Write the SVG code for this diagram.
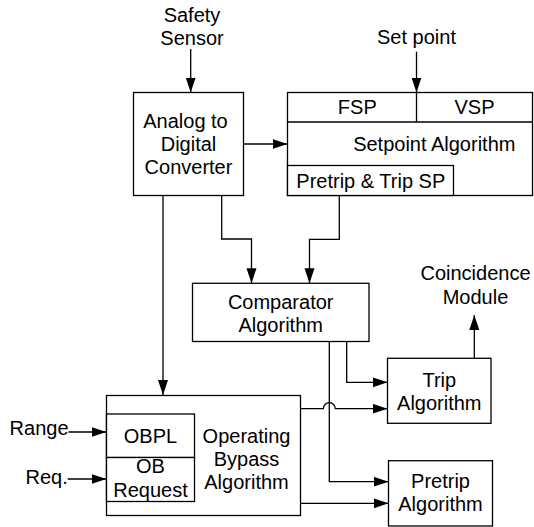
<svg xmlns="http://www.w3.org/2000/svg" width="534" height="527" viewBox="0 0 534 527">
<style>
.box{fill:#fff;stroke:#000;stroke-width:1.3}
.ln{fill:none;stroke:#000;stroke-width:1.3}
.arr{marker-end:url(#ah)}
text{font-family:"Liberation Sans",Arial,sans-serif;font-size:20px;fill:#000}
.c{text-anchor:middle}
.e{text-anchor:end}
</style>
<defs>
<marker id="ah" markerUnits="userSpaceOnUse" markerWidth="16" markerHeight="11" refX="15" refY="5" orient="auto">
<path d="M0,0 L15,5 L0,10 Z" fill="#000"/>
</marker>
</defs>
<rect width="534" height="527" fill="#fff"/>

<g id="safety-sensor">
<text class="c" x="192" y="22">Safety</text>
<text class="c" x="192" y="45">Sensor</text>
</g>
<g id="set-point">
<text class="c" x="416.5" y="43.5">Set point</text>
</g>
<g id="coincidence-module">
<text class="c" x="475.5" y="280.3">Coincidence</text>
<text class="c" x="475.5" y="303.6">Module</text>
</g>
<g id="range">
<text class="e" x="68.5" y="434.5">Range</text>
</g>
<g id="req">
<text class="e" x="67.7" y="483.5">Req.</text>
</g>

<g id="adc">
<rect class="box" x="133.5" y="92.5" width="110" height="103"/>
<text class="c" x="185.5" y="127.8">Analog to</text>
<text class="c" x="188.5" y="151">Digital</text>
<text class="c" x="188.5" y="174">Converter</text>
</g>

<g id="setpoint-algorithm">
<rect class="box" x="287.5" y="92.5" width="245" height="103"/>
<line class="ln" x1="287.5" y1="122" x2="532.5" y2="122"/>
<line class="ln" x1="416.5" y1="92.5" x2="416.5" y2="122"/>
<text class="c" x="357.3" y="114">FSP</text>
<text class="c" x="474.5" y="114">VSP</text>
<text class="c" x="434.3" y="151">Setpoint Algorithm</text>
<rect class="box" x="287.5" y="165.5" width="166" height="30"/>
<text class="c" x="370.8" y="187.5">Pretrip &amp; Trip SP</text>
</g>

<g id="comparator">
<rect class="box" x="192.5" y="283.3" width="176.5" height="58.2"/>
<text class="c" x="280.7" y="308.5">Comparator</text>
<text class="c" x="280.7" y="332">Algorithm</text>
</g>

<g id="trip">
<rect class="box" x="387.5" y="358.3" width="103.5" height="65"/>
<text class="c" x="439.3" y="386.7">Trip</text>
<text class="c" x="439.3" y="409.5">Algorithm</text>
</g>

<g id="pretrip">
<rect class="box" x="388.5" y="460.7" width="104" height="65.3"/>
<text class="c" x="440.5" y="487.7">Pretrip</text>
<text class="c" x="440.5" y="511">Algorithm</text>
</g>

<g id="operating-bypass">
<rect class="box" x="106.5" y="395.5" width="194" height="120"/>
<rect class="box" x="106.5" y="414" width="88" height="43.5"/>
<rect class="box" x="106.5" y="457.5" width="88" height="44"/>
<text class="c" x="150.5" y="443">OBPL</text>
<text class="c" x="150.5" y="472.5">OB</text>
<text class="c" x="150.5" y="497">Request</text>
<text class="c" x="246.5" y="443">Operating</text>
<text class="c" x="246.5" y="466">Bypass</text>
<text class="c" x="246.5" y="489">Algorithm</text>
</g>

<g id="connectors">
<path class="ln arr" d="M190.7,49 V92.5"/>
<path class="ln arr" d="M416.5,51.7 V92.5"/>
<path class="ln arr" d="M243.5,144 H287.5"/>
<path class="ln arr" d="M163,195.5 V395"/>
<path class="ln arr" d="M221.7,195.5 V239 H251.5 V283.3"/>
<path class="ln arr" d="M339.3,195.5 V239.3 H309.5 V283.3"/>
<path class="ln arr" d="M346.7,341.5 V382.3 H387.5"/>
<path class="ln arr" d="M329.3,341.5 V481.7 H388.5"/>
<path class="ln arr" d="M300.5,408.7 H323.3 A6,6 0 0 1 335.3,408.7 H387.5"/>
<path class="ln arr" d="M300.5,503.3 H388.5"/>
<path class="ln arr" d="M474.3,358.3 V315"/>
<path class="ln arr" d="M68.5,432 H106.5"/>
<path class="ln arr" d="M67.7,479 H106.5"/>
</g>
</svg>
